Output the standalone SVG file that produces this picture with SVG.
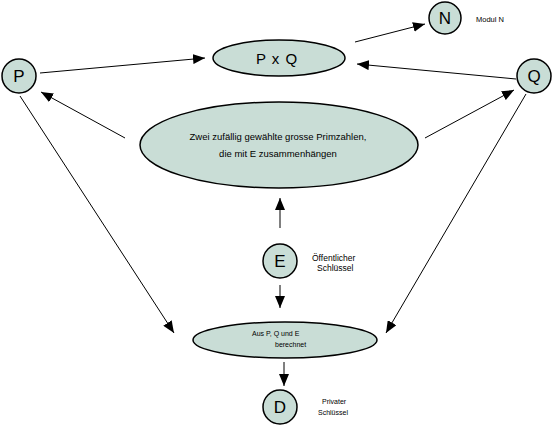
<svg xmlns="http://www.w3.org/2000/svg" width="552" height="426" viewBox="0 0 552 426">
<defs>
<marker id="ah" viewBox="0 0 12 10" refX="12" refY="5" markerWidth="12" markerHeight="10" markerUnits="userSpaceOnUse" orient="auto">
<path d="M0,0 L12,5 L0,10 z" fill="#000"/>
</marker>
<style>
.n{fill:#c9ddd6;stroke:#000;stroke-width:1.5}
.l{font-family:"Liberation Sans",Arial,sans-serif;fill:#000}
.big{font-size:17px;text-anchor:middle}
.t{font-size:9.5px;text-anchor:middle}
.s{font-size:7px}
.m{font-size:8.5px}
.c line{stroke:#000;stroke-width:1;marker-end:url(#ah)}
</style>
</defs>
<rect width="552" height="426" fill="#fff"/>
<g class="c">
<line x1="40" y1="73" x2="205" y2="58"/>
<line x1="355" y1="42" x2="425" y2="24"/>
<line x1="516" y1="79" x2="357" y2="64"/>
<line x1="125" y1="138" x2="41" y2="92"/>
<line x1="425" y1="138" x2="514" y2="90"/>
<line x1="280" y1="228" x2="280" y2="198"/>
<line x1="280" y1="285" x2="280" y2="308"/>
<line x1="20" y1="96" x2="174" y2="333"/>
<line x1="526" y1="94" x2="386" y2="333"/>
<line x1="284" y1="362" x2="284" y2="386"/>
</g>
<g id="P"><circle class="n" cx="19" cy="76" r="17"/><text class="l big" x="19" y="82">P</text></g>
<g id="Q"><circle class="n" cx="534" cy="76" r="17"/><text class="l big" x="534" y="82">Q</text></g>
<g id="N"><circle class="n" cx="445" cy="18" r="16"/><text class="l big" x="445" y="24">N</text><text class="l" font-size="7.5" x="476" y="22">Modul N</text></g>
<g id="PxQ"><ellipse class="n" cx="279" cy="58" rx="66" ry="18" stroke-width="2.5"/><text class="l" x="277" y="64" font-size="15" text-anchor="middle" letter-spacing="1">P x Q</text></g>
<g id="Primzahlen"><ellipse class="n" cx="279" cy="145" rx="139" ry="43" stroke-width="3"/><text class="l t" x="278" y="140">Zwei zufällig gewählte grosse Primzahlen,</text><text class="l t" x="278" y="157">die mit E zusammenhängen</text></g>
<g id="E"><circle class="n" cx="280" cy="261" r="17"/><text class="l big" x="280" y="267">E</text><text class="l m" x="312" y="261">Öffentlicher</text><text class="l m" x="317" y="271">Schlüssel</text></g>
<g id="berechnet"><ellipse class="n" cx="285" cy="340" rx="92" ry="18"/><text class="l s" x="252" y="336">Aus P, Q und E</text><text class="l s" x="275" y="347">berechnet</text></g>
<g id="D"><circle class="n" cx="280" cy="407" r="17"/><text class="l big" x="280" y="413">D</text><text class="l s" x="322" y="404">Privater</text><text class="l s" x="318" y="415">Schlüssel</text></g>
</svg>
